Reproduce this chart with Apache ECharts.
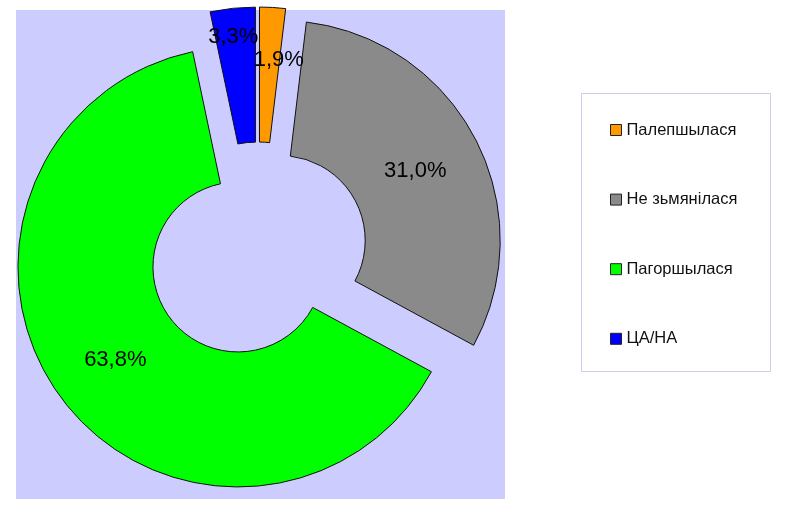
<!DOCTYPE html>
<html>
<head>
<meta charset="utf-8">
<script src="https://cdn.jsdelivr.net/npm/echarts@6/dist/echarts.min.js"></script>
<style>
html,body{margin:0;padding:0;background:#fff;}
#chart{width:800px;height:513px;}
</style>
</head>
<body>
<div id="chart"></div>
<script>
var categories = ['Палепшылася', 'Не зьмянілася', 'Пагоршылася', 'ЦА/НА'];
var values = [1.9, 31.0, 63.8, 3.3];
var colors = ['#FF9900', '#8A8A8A', '#00FF00', '#0000FF'];
var labelShift = [[10, -12], [-3, 2], [2, 0], [-6, -36]];

var chart = echarts.init(document.getElementById('chart'), null, {renderer: 'canvas'});

var data = categories.map(function (c, i) {
  return {
    name: c,
    value: values[i],
    selected: true,
    itemStyle: {color: colors[i]}
  };
});

var option = {
  animation: false,
  backgroundColor: '#ffffff',
  graphic: [
    {type: 'rect', z: -10, shape: {x: 16, y: 10, width: 489, height: 489}, style: {fill: '#CCCCFF'}},
    {type: 'rect', z: -10, shape: {x: 581.5, y: 93.5, width: 189, height: 278}, style: {fill: '#ffffff', stroke: '#CCCCEE', lineWidth: 1}}
  ],
  legend: {
    orient: 'vertical',
    left: 610,
    top: 121.5,
    padding: 0,
    itemWidth: 11,
    itemHeight: 11,
    itemGap: 52.6,
    icon: 'rect',
    selectedMode: false,
    textStyle: {fontFamily: 'Liberation Sans, Arial, sans-serif', fontSize: 16.5, color: '#111'},
    itemStyle: {borderColor: '#222', borderWidth: 1},
    data: categories
  },
  series: [{
    type: 'pie',
    center: [258, 252],
    radius: [85, 220],
    startAngle: 90,
    clockwise: true,
    selectedMode: 'multiple',
    selectedOffset: 25,
    avoidLabelOverlap: false,
    emphasis: {disabled: true},
    itemStyle: {borderColor: '#111', borderWidth: 1},
    label: {
      show: true,
      position: 'inside',
      color: '#000',
      fontFamily: 'Liberation Sans, Arial, sans-serif',
      fontSize: 22,
      formatter: function (p) { return values[p.dataIndex].toFixed(1).replace('.', ',') + '%'; }
    },
    labelLayout: function (p) {
      return {dx: labelShift[p.dataIndex][0], dy: labelShift[p.dataIndex][1]};
    },
    labelLine: {show: false},
    data: data
  }]
};
chart.setOption(option);
</script>
</body>
</html>
